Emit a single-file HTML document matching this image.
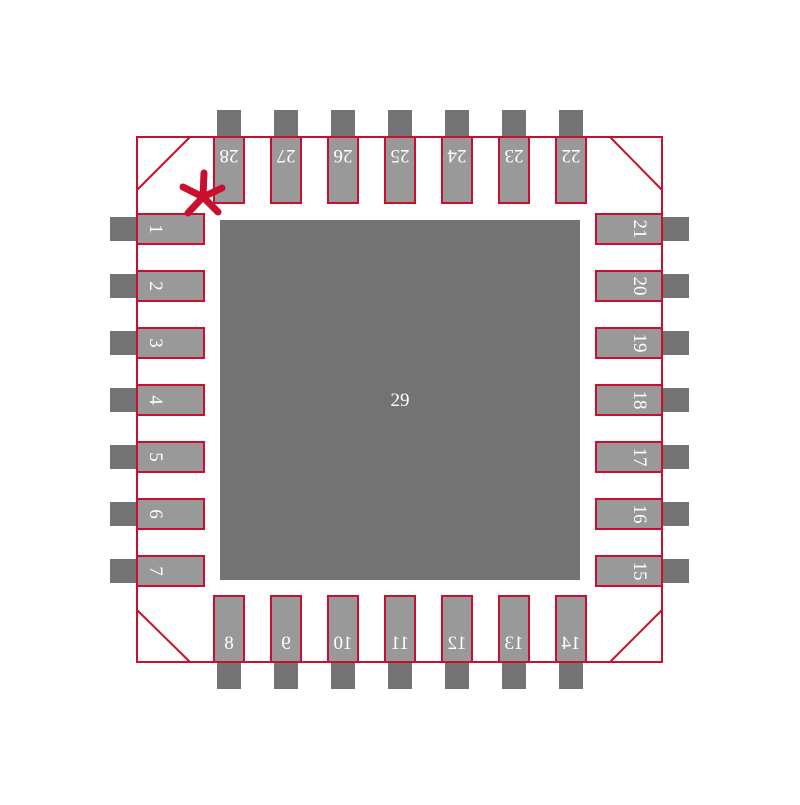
<!DOCTYPE html>
<html><head><style>html,body{margin:0;padding:0;background:#fff}</style></head><body>
<svg width="800" height="800" xmlns="http://www.w3.org/2000/svg" font-family="Liberation Serif, serif" font-size="19" fill="#fff">
<rect width="800" height="800" fill="#fff"/>
<rect x="220" y="220" width="360" height="360" fill="#737373"/>
<g fill="#737373">
<rect x="217" y="110" width="24" height="27"/><rect x="274" y="110" width="24" height="27"/><rect x="331" y="110" width="24" height="27"/><rect x="388" y="110" width="24" height="27"/><rect x="445" y="110" width="24" height="27"/><rect x="502" y="110" width="24" height="27"/><rect x="559" y="110" width="24" height="27"/>
<rect x="217" y="662" width="24" height="27"/><rect x="274" y="662" width="24" height="27"/><rect x="331" y="662" width="24" height="27"/><rect x="388" y="662" width="24" height="27"/><rect x="445" y="662" width="24" height="27"/><rect x="502" y="662" width="24" height="27"/><rect x="559" y="662" width="24" height="27"/>
<rect x="110" y="217" width="27" height="24"/><rect x="110" y="274" width="27" height="24"/><rect x="110" y="331" width="27" height="24"/><rect x="110" y="388" width="27" height="24"/><rect x="110" y="445" width="27" height="24"/><rect x="110" y="502" width="27" height="24"/><rect x="110" y="559" width="27" height="24"/>
<rect x="662" y="217" width="27" height="24"/><rect x="662" y="274" width="27" height="24"/><rect x="662" y="331" width="27" height="24"/><rect x="662" y="388" width="27" height="24"/><rect x="662" y="445" width="27" height="24"/><rect x="662" y="502" width="27" height="24"/><rect x="662" y="559" width="27" height="24"/>
</g>
<g fill="#999" stroke="#c8102e" stroke-width="2">
<rect x="214" y="137" width="30" height="66"/><rect x="271" y="137" width="30" height="66"/><rect x="328" y="137" width="30" height="66"/><rect x="385" y="137" width="30" height="66"/><rect x="442" y="137" width="30" height="66"/><rect x="499" y="137" width="30" height="66"/><rect x="556" y="137" width="30" height="66"/>
<rect x="214" y="596" width="30" height="66"/><rect x="271" y="596" width="30" height="66"/><rect x="328" y="596" width="30" height="66"/><rect x="385" y="596" width="30" height="66"/><rect x="442" y="596" width="30" height="66"/><rect x="499" y="596" width="30" height="66"/><rect x="556" y="596" width="30" height="66"/>
<rect x="137" y="214" width="67" height="30"/><rect x="137" y="271" width="67" height="30"/><rect x="137" y="328" width="67" height="30"/><rect x="137" y="385" width="67" height="30"/><rect x="137" y="442" width="67" height="30"/><rect x="137" y="499" width="67" height="30"/><rect x="137" y="556" width="67" height="30"/>
<rect x="596" y="214" width="66" height="30"/><rect x="596" y="271" width="66" height="30"/><rect x="596" y="328" width="66" height="30"/><rect x="596" y="385" width="66" height="30"/><rect x="596" y="442" width="66" height="30"/><rect x="596" y="499" width="66" height="30"/><rect x="596" y="556" width="66" height="30"/>
</g>
<g fill="none" stroke="#c8102e" stroke-width="2">
<rect x="137" y="137" width="525" height="525"/>
<line x1="137" y1="190" x2="190" y2="137"/><line x1="610" y1="137" x2="662" y2="190"/>
<line x1="137" y1="610" x2="190" y2="662"/><line x1="610" y1="662" x2="662" y2="610"/>
</g>
<g stroke="#c8102e" stroke-width="7" stroke-linecap="round">
<line x1="203" y1="197" x2="204" y2="173"/><line x1="203" y1="197" x2="183" y2="187"/><line x1="203" y1="197" x2="222" y2="188"/><line x1="203" y1="197" x2="188" y2="213"/><line x1="203" y1="197" x2="218" y2="212"/>
</g>
<text x="400" y="406" text-anchor="middle">29</text>
<g text-anchor="middle">
<text transform="translate(229,150) rotate(180)">28</text><text transform="translate(286,150) rotate(180)">27</text><text transform="translate(343,150) rotate(180)">26</text><text transform="translate(400,150) rotate(180)">25</text><text transform="translate(457,150) rotate(180)">24</text><text transform="translate(514,150) rotate(180)">23</text><text transform="translate(571,150) rotate(180)">22</text>
<text transform="translate(229,649) scale(-1,1)">8</text><text transform="translate(286,649) scale(-1,1)">9</text><text transform="translate(343,649) scale(-1,1)">10</text><text transform="translate(400,649) scale(-1,1)">11</text><text transform="translate(457,649) scale(-1,1)">12</text><text transform="translate(514,649) scale(-1,1)">13</text><text transform="translate(571,649) scale(-1,1)">14</text>
<text transform="translate(150,229) rotate(90)">1</text><text transform="translate(150,286) rotate(90)">2</text><text transform="translate(150,343) rotate(90)">3</text><text transform="translate(150,400) rotate(90)">4</text><text transform="translate(150,457) rotate(90)">5</text><text transform="translate(150,514) rotate(90)">6</text><text transform="translate(150,571) rotate(90)">7</text>
<text transform="translate(634,229) rotate(90)">21</text><text transform="translate(634,286) rotate(90)">20</text><text transform="translate(634,343) rotate(90)">19</text><text transform="translate(634,400) rotate(90)">18</text><text transform="translate(634,457) rotate(90)">17</text><text transform="translate(634,514) rotate(90)">16</text><text transform="translate(634,571) rotate(90)">15</text>
</g>
</svg>
</body></html>
